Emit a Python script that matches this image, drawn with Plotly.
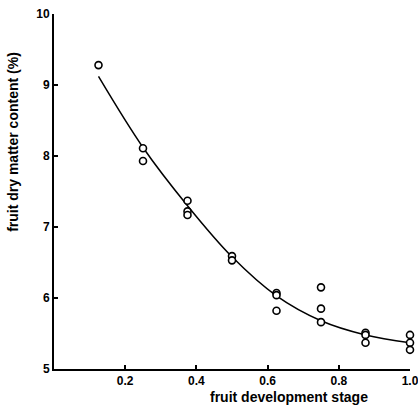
import plotly.graph_objects as go

stage = [0.125, 0.25, 0.25, 0.375, 0.375, 0.375, 0.5, 0.5,
         0.625, 0.625, 0.625, 0.75, 0.75, 0.75, 0.875, 0.875, 0.875,
         1.0, 1.0, 1.0]
dry_matter = [9.28, 8.11, 7.93, 7.37, 7.22, 7.17, 6.59, 6.53,
              6.07, 6.04, 5.82, 6.15, 5.85, 5.66, 5.51, 5.48, 5.37,
              5.48, 5.37, 5.27]

fit_x = [0.125, 0.25, 0.375, 0.5, 0.625, 0.75, 0.875, 1.0]
fit_y = [9.12, 8.12, 7.30, 6.58, 6.03, 5.68, 5.48, 5.37]

x_ticks = [0.2, 0.4, 0.6, 0.8, 1.0]
x_tick_text = ["0.2", "0.4", "0.6", "0.8", "1.0"]
y_ticks = [5, 6, 7, 8, 9, 10]
y_tick_text = ["5", "6", "7", "8", "9", "10"]

font_family = "Liberation Sans, Arial, sans-serif"

fig = go.Figure()
fig.add_trace(go.Scatter(
    x=fit_x, y=fit_y, mode="lines",
    line=dict(color="black", width=1.5, shape="spline", smoothing=1.0),
    hoverinfo="skip", showlegend=False))
fig.add_trace(go.Scatter(
    x=stage, y=dry_matter, mode="markers",
    marker=dict(symbol="circle", size=7, color="white",
                line=dict(color="black", width=1.6)),
    cliponaxis=False, showlegend=False))

tick_font = dict(family=font_family, size=12, color="black", weight="bold")

fig.update_xaxes(
    range=[0, 1.0], tickvals=x_ticks, ticktext=x_tick_text,
    showline=True, linecolor="black", linewidth=2,
    ticks="inside", ticklen=4, tickwidth=1.5, tickcolor="black",
    showgrid=False, zeroline=False, tickfont=tick_font,
    ticklabeloverflow="allow", automargin=False)
fig.update_yaxes(
    range=[5, 10], tickvals=y_ticks, ticktext=y_tick_text,
    showline=True, linecolor="black", linewidth=2,
    ticks="inside", ticklen=4, tickwidth=1.5, tickcolor="black",
    showgrid=False, zeroline=False, tickfont=tick_font, automargin=False)

title_font = dict(size=14, family=font_family, color="black", weight="bold")

fig.update_layout(
    width=418, height=407,
    margin=dict(l=54, r=8, t=14, b=38, autoexpand=False),
    paper_bgcolor="white", plot_bgcolor="white",
    font=dict(family=font_family, color="black"),
    annotations=[
        dict(text="fruit development stage", xref="paper", yref="paper",
             x=0.66, y=-0.078, xanchor="center", yanchor="middle",
             showarrow=False, font=title_font),
        dict(text="fruit dry matter content (%)", xref="paper", yref="paper",
             x=-0.115, y=0.64, xanchor="center", yanchor="middle", textangle=-90,
             showarrow=False, font=title_font),
    ])

fig.write_html("out.html")
